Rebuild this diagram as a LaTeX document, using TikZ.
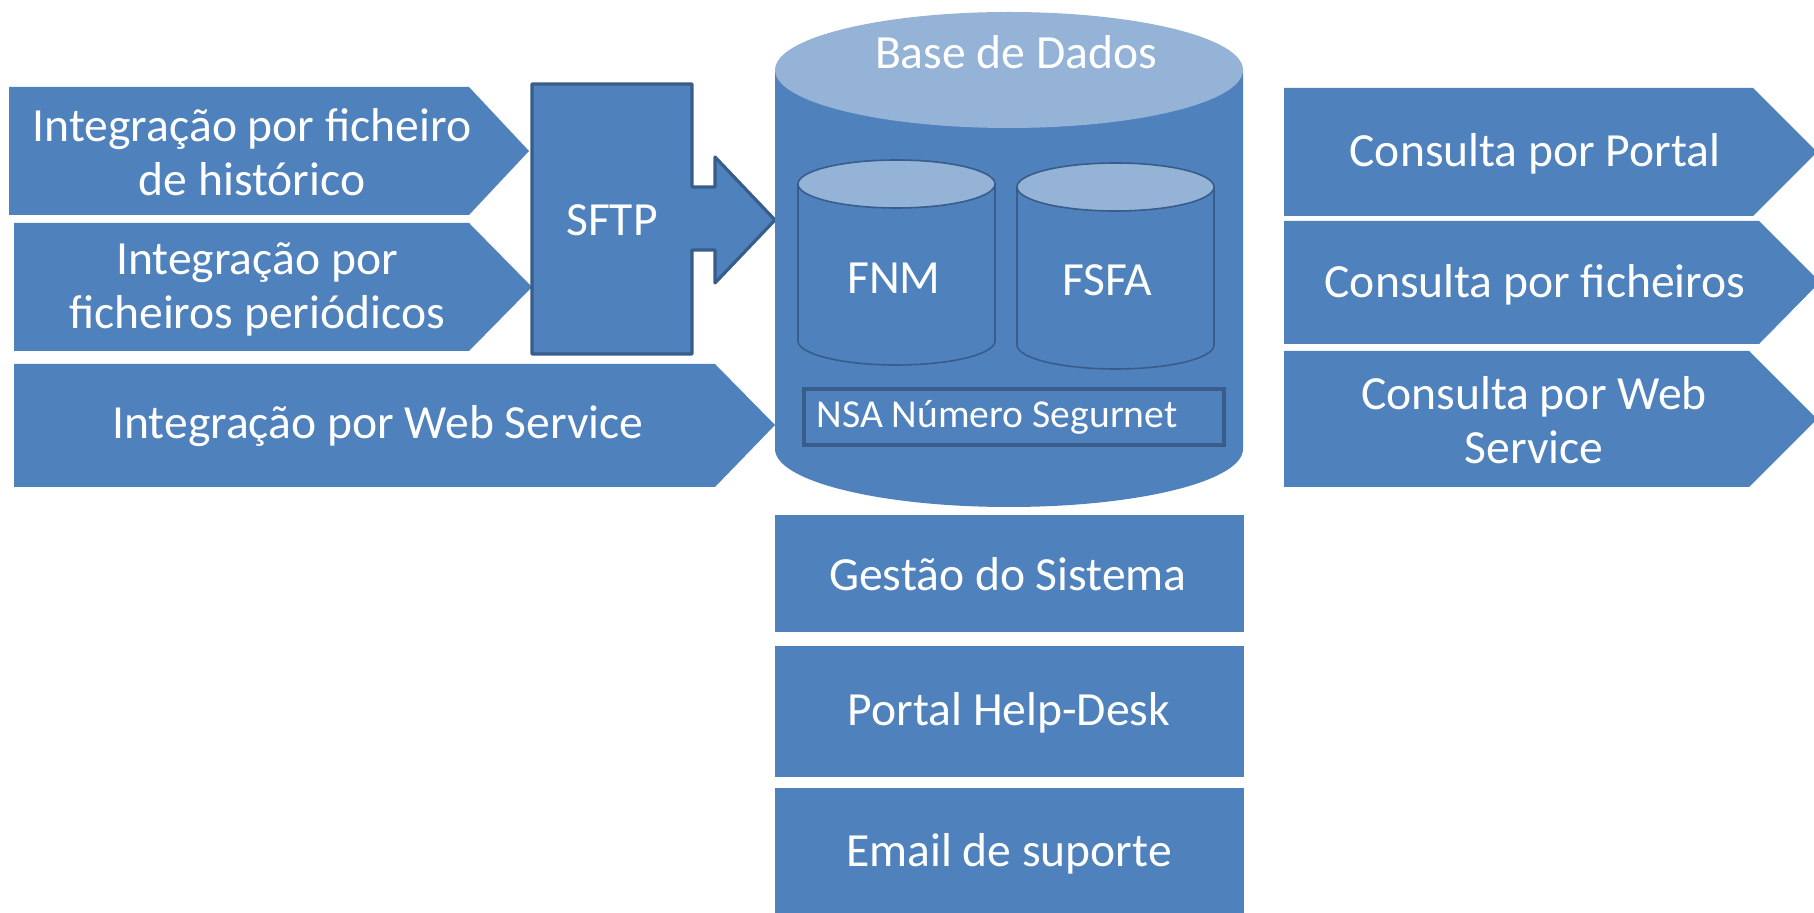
\documentclass[tikz,border=0pt]{standalone}
\usepackage{fontspec}
\setmainfont{Carlito}
\definecolor{boxblue}{HTML}{4F81BD}
\definecolor{lightblue}{HTML}{95B3D7}
\definecolor{darkblue}{HTML}{385D8A}
\begin{document}
\begin{tikzpicture}[x=0.5pt,y=-0.5pt,
  shapefill/.style={fill=boxblue,draw=none},
  lbl/.style={text=white,align=center,font=\fontsize{23.8}{27}\selectfont,inner sep=0pt},
  smalllbl/.style={text=white,align=center,font=\fontsize{19.8}{22}\selectfont,inner sep=0pt}]
\useasboundingbox (0,0) rectangle (1814,913);
% left arrows
\fill[boxblue] (9,87) -- (469,87) -- (529,151) -- (469,215) -- (9,215) -- cycle;
\fill[boxblue] (14,223) -- (469,223) -- (532,287) -- (469,351) -- (14,351) -- cycle;
\fill[boxblue] (14,364) -- (715,364) -- (775,425) -- (715,487) -- (14,487) -- cycle;
\node[lbl] (a1) at (252,152) {Integração por ficheiro\\de histórico};
\node[lbl] (a2) at (257,289) {Integração por\\ficheiros periódicos};
\node[lbl] (a3) at (378,426) {Integração por Web Service};
% SFTP box with arrow
\draw[fill=boxblue,draw=darkblue,line width=1.6pt,line join=round]
  (532,84) -- (692,84) -- (692,187) -- (715,187) -- (715,157) -- (775,220)
  -- (715,283) -- (715,250) -- (692,250) -- (692,354) -- (532,354) -- cycle;
\node[lbl] (sftp) at (612,220) {SFTP};
% big cylinder
\fill[boxblue] (775,70) -- (775,449) arc[start angle=180,end angle=360,x radius=117pt,y radius=29pt] -- (1243,70) -- cycle;
\fill[lightblue] (1009,70) ellipse [x radius=117pt,y radius=29pt];
\node[lbl] (db) at (1016,52) {Base de Dados};
% FNM cylinder
\draw[fill=boxblue,draw=darkblue,line width=0.8pt] (798,184) -- (798,341) arc[start angle=180,end angle=360,x radius=49.25pt,y radius=12pt] -- (995,184);
\draw[fill=lightblue,draw=darkblue,line width=0.8pt] (896.5,184) ellipse [x radius=49.25pt,y radius=12pt];
\node[lbl] (fnm) at (894,278) {FNM};
% FSFA cylinder
\draw[fill=boxblue,draw=darkblue,line width=0.8pt] (1017,187) -- (1017,345) arc[start angle=180,end angle=360,x radius=49.25pt,y radius=12pt] -- (1214,187);
\draw[fill=lightblue,draw=darkblue,line width=0.8pt] (1115.5,187) ellipse [x radius=49.25pt,y radius=12pt];
\node[lbl] (fsfa) at (1107,280) {FSFA};
% NSA box
\draw[fill=boxblue,draw=darkblue,line width=2.4pt] (804,389) rectangle (1224,445);
\node[smalllbl] (nsa) at (997,417) {NSA Número Segurnet};
% bottom boxes
\fill[boxblue] (775,515) rectangle (1244,632);
\fill[boxblue] (775,646) rectangle (1244,777);
\fill[boxblue] (775,788) rectangle (1244,913);
\node[lbl] (g) at (1008,574) {Gestão do Sistema};
\node[lbl] (p) at (1009,713) {Portal Help-Desk};
\node[lbl] (e) at (1009,854) {Email de suporte};
% right arrows
\fill[boxblue] (1284,88) -- (1753,88) -- (1817,152) -- (1753,216) -- (1284,216) -- cycle;
\fill[boxblue] (1284,221) -- (1759,221) -- (1820,282) -- (1759,344) -- (1284,344) -- cycle;
\fill[boxblue] (1284,351) -- (1749,351) -- (1817,419) -- (1749,487) -- (1284,487) -- cycle;
\node[lbl] (r1) at (1535,154) {Consulta por Portal};
\node[lbl] (r2) at (1535,285) {Consulta por ficheiros};
\node[lbl] (r3) at (1534,420) {Consulta por Web\\Service};
\end{tikzpicture}
\end{document}
